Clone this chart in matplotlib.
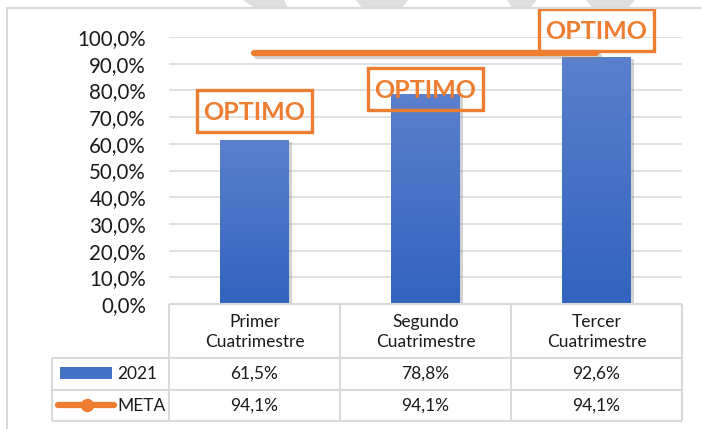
import matplotlib
matplotlib.use('Agg')
import matplotlib.pyplot as plt
import numpy as np
from matplotlib.patches import Rectangle, Polygon
from matplotlib.lines import Line2D
import matplotlib.patheffects as pe
import matplotlib.transforms as mtransforms
from matplotlib.colors import LinearSegmentedColormap

# ---------------- data ----------------
categories = ['Primer\nCuatrimestre', 'Segundo\nCuatrimestre', 'Tercer\nCuatrimestre']
values_2021 = [61.5, 78.8, 92.6]
values_meta = [94.1, 94.1, 94.1]
series_names = ['2021', 'META']
status_labels = ['OPTIMO', 'OPTIMO', 'OPTIMO']
status_y = [72.3, 80.5, 102.6]          # centre height of each label box (%)
yticks = [0, 10, 20, 30, 40, 50, 60, 70, 80, 90, 100]

def pct(v):
    return f"{v:.1f}%".replace('.', ',')

# ---------------- figure ----------------
W, H = 702, 429
fig = plt.figure(figsize=(W / 100, H / 100), dpi=100)
fig.patch.set_facecolor('white')
FONT = 'Lato'
TXT = '#1a1a1a'
GRID = '#D9D9D9'
ORANGE = '#ED7D31'

def fx(px):
    return px / W

def fy(py):
    return 1 - py / H

ax = fig.add_axes([fx(169), fy(304), (682 - 169) / W, (304 - 37) / H])
ax.set_xlim(-0.5, 2.5)
ax.set_ylim(0, 100)
for s in ax.spines.values():
    s.set_visible(False)
ax.set_xticks([])
ax.set_yticks(yticks)
ax.set_yticklabels([pct(v) for v in yticks], fontfamily=FONT, fontsize=14.8, color=TXT)
ax.tick_params(axis='y', length=0, pad=16.5)
ax.yaxis.grid(True, color=GRID, lw=1.1)
ax.set_axisbelow(True)

x = np.arange(len(categories))
bw = 0.403
cmap = LinearSegmentedColormap.from_list('g', ['#3263BE', '#5B80CD'])
grad = np.linspace(0, 1, 256).reshape(-1, 1)
bars = ax.bar(x, values_2021, bw, color='#4472C4', zorder=2,
              path_effects=[pe.SimplePatchShadow(offset=(2.5, -1.5), shadow_rgbFace='#808080', alpha=0.35),
                            pe.Normal()])
for b, xi, v in zip(bars, x, values_2021):
    im = ax.imshow(grad, cmap=cmap, origin='lower', aspect='auto',
                   extent=[xi - bw / 2, xi + bw / 2, 0, v], zorder=3)
    im.set_clip_path(b)
ax.set_xlim(-0.5, 2.5)
ax.set_ylim(0, 100)

ax.plot(x, values_meta, color=ORANGE, lw=4.5, solid_capstyle='round', zorder=4,
        path_effects=[pe.SimpleLineShadow(offset=(1.5, -2.5), shadow_color='#808080', alpha=0.35),
                      pe.Normal()])

# status boxes
box_w = 115 / 171
box_h = 42 / 2.67
for xi, yc, lab in zip(x, status_y, status_labels):
    r = Rectangle((xi - box_w / 2, yc - box_h / 2), box_w, box_h, fill=False,
                  edgecolor=ORANGE, lw=2.4, zorder=6, clip_on=False)
    ax.add_patch(r)
    ax.text(xi, yc - 0.4, lab, ha='center', va='center', fontfamily=FONT, fontweight='bold',
            fontsize=18, color=ORANGE, zorder=7, clip_on=False)

# ---------------- data table ----------------
blend = mtransforms.blended_transform_factory(ax.transData, fig.transFigure)
LW = 1.5
col_edges = [-0.5, 0.5, 1.5, 2.5]

def fline(xs, ys, tr=fig.transFigure):
    fig.add_artist(Line2D(xs, ys, transform=tr, color=GRID, lw=LW, solid_capstyle='butt'))

fline([-0.5, 2.5], [fy(304), fy(304)], blend)
for ce in col_edges:
    fline([ce, ce], [fy(304), fy(421)], blend)
for yy in [358, 389.5, 421]:
    fline([fx(52), fx(682)], [fy(yy), fy(yy)])
fline([fx(52), fx(52)], [fy(358), fy(421)])

for xi, c in zip(x, categories):
    ax.text(xi, fy(332), c, transform=blend, ha='center', va='center', fontfamily=FONT,
            fontsize=12.5, color=TXT, linespacing=1.25, clip_on=False)
for xi, v in zip(x, values_2021):
    ax.text(xi, fy(374), pct(v), transform=blend, ha='center', va='center', fontfamily=FONT,
            fontsize=12.5, color=TXT, clip_on=False)
for xi, v in zip(x, values_meta):
    ax.text(xi, fy(406), pct(v), transform=blend, ha='center', va='center', fontfamily=FONT,
            fontsize=12.5, color=TXT, clip_on=False)

# legend keys
fig.add_artist(Rectangle((fx(60), fy(379)), fx(112) - fx(60), fy(367) - fy(379),
                         transform=fig.transFigure, facecolor='#4472C4', edgecolor='none'))
fig.add_artist(Line2D([fx(58), fx(114)], [fy(405), fy(405)], transform=fig.transFigure,
                      color=ORANGE, lw=4.5, solid_capstyle='round'))
fig.add_artist(Line2D([fx(86.5)], [fy(405)], transform=fig.transFigure, color=ORANGE,
                      marker='o', markersize=8.6, lw=0))
fig.text(fx(117), fy(374), series_names[0], ha='left', va='center', fontfamily=FONT,
         fontsize=12.5, color=TXT)
fig.text(fx(117), fy(406), series_names[1], ha='left', va='center', fontfamily=FONT,
         fontsize=12.5, color=TXT)

# ---------------- frame & watermark ----------------
for poly in [[(243, 0), (284, 0), (288, 8), (255, 8)],
             [(356, 0), (408, 0), (402, 8), (362, 8)],
             [(507, 0), (537, 0), (530, 8), (512, 8)],
             [(586, 0), (635, 0), (628, 8), (592, 8)]]:
    fig.add_artist(Polygon([(fx(a), fy(b)) for a, b in poly], closed=True,
                           transform=fig.transFigure, facecolor='#DEDEDE', edgecolor='none'))
fig.add_artist(Line2D([fx(7), fx(702)], [fy(8), fy(8)], transform=fig.transFigure, color=GRID, lw=LW))
fig.add_artist(Line2D([fx(7), fx(7)], [fy(8), fy(429)], transform=fig.transFigure, color=GRID, lw=LW))

fig.savefig('out.png', dpi=100, facecolor='white')
